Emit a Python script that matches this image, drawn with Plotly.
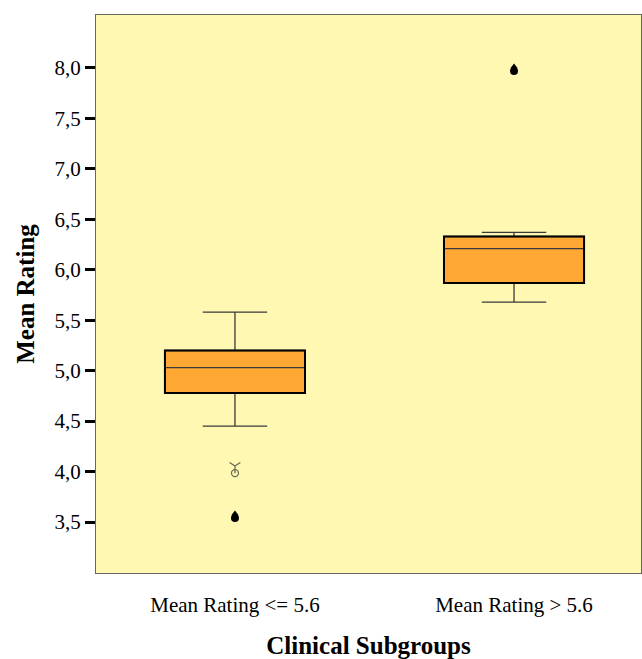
import plotly.graph_objects as go

categories = ["Mean Rating <= 5.6", "Mean Rating > 5.6"]
positions = [0, 1]
lower_whisker = [4.45, 5.68]
q1 = [4.78, 5.87]
median = [5.03, 6.21]
q3 = [5.20, 6.33]
upper_whisker = [5.58, 6.37]

# outliers (circle markers) and extreme marker
outlier_x = [0, 1]
outlier_y = [3.54, 7.97]
extreme_x = [0]
extreme_y = [4.02]

yticks = [3.5, 4.0, 4.5, 5.0, 5.5, 6.0, 6.5, 7.0, 7.5, 8.0]
yticklabels = ["3,5", "4,0", "4,5", "5,0", "5,5", "6,0", "6,5", "7,0", "7,5", "8,0"]

BOX_W = 0.502
fill = "#FFA833"
bg = "#FFF8B3"
serif = "Liberation Serif, Times New Roman, serif"
glyph_col = "#6b6b55"

fig = go.Figure()
fig.add_trace(go.Box(
    x=positions, q1=q1, median=median, q3=q3,
    lowerfence=lower_whisker, upperfence=upper_whisker,
    width=BOX_W, whiskerwidth=0.46,
    fillcolor=fill, line=dict(color="#3a3a3a", width=1.3),
    boxpoints=False, showlegend=False, hoverinfo="skip",
))
# thicker box outlines
for p, a, b in zip(positions, q1, q3):
    fig.add_shape(type="rect", x0=p - BOX_W / 2, x1=p + BOX_W / 2, y0=a, y1=b,
                  line=dict(color="black", width=2), xref="x", yref="y")

# drop-shaped outliers: circle + small triangle on top
fig.add_trace(go.Scatter(
    x=outlier_x, y=outlier_y, mode="markers",
    marker=dict(symbol="circle", size=8, color="black"),
    showlegend=False, hoverinfo="skip"))
fig.add_trace(go.Scatter(
    x=outlier_x, y=[v + 0.045 for v in outlier_y], mode="markers",
    marker=dict(symbol="triangle-up", size=6, color="black"),
    showlegend=False, hoverinfo="skip"))
# extreme value marker (victory-hand-like glyph): fingers + fist
fig.add_trace(go.Scatter(
    x=extreme_x, y=[v + 0.035 for v in extreme_y], mode="markers",
    marker=dict(symbol="y-down-open", size=9, color=glyph_col, line=dict(width=1.3)),
    showlegend=False, hoverinfo="skip"))
fig.add_trace(go.Scatter(
    x=extreme_x, y=[v - 0.035 for v in extreme_y], mode="markers",
    marker=dict(symbol="circle-open", size=7, color=glyph_col, line=dict(width=1.3)),
    showlegend=False, hoverinfo="skip"))

fig.update_layout(
    width=642, height=659,
    margin=dict(l=96, r=1, t=15, b=86),
    paper_bgcolor="white", plot_bgcolor=bg,
    font=dict(family=serif, color="black"),
)
fig.update_xaxes(
    range=[-0.498, 1.455], tickvals=positions, ticktext=categories,
    tickfont=dict(family=serif, size=21), ticks="", ticklabelstandoff=13,
    showgrid=False, zeroline=False,
    showline=True, linecolor="#666", linewidth=1, mirror=True,
    title=dict(text="<b>Clinical Subgroups</b>", font=dict(family=serif, size=25), standoff=20),
)
fig.update_yaxes(
    range=[2.995, 8.525], tickvals=yticks, ticktext=yticklabels,
    tickfont=dict(family=serif, size=21), ticks="outside", ticklen=10, tickwidth=3,
    tickcolor="black", showgrid=False, zeroline=False,
    showline=True, linecolor="#666", linewidth=1, mirror=True,
    title=dict(text="<b>Mean Rating</b>", font=dict(family=serif, size=25), standoff=12),
)
fig.write_html("out.html", config={"displayModeBar": False},
               post_script="document.body.style.margin='0';")
